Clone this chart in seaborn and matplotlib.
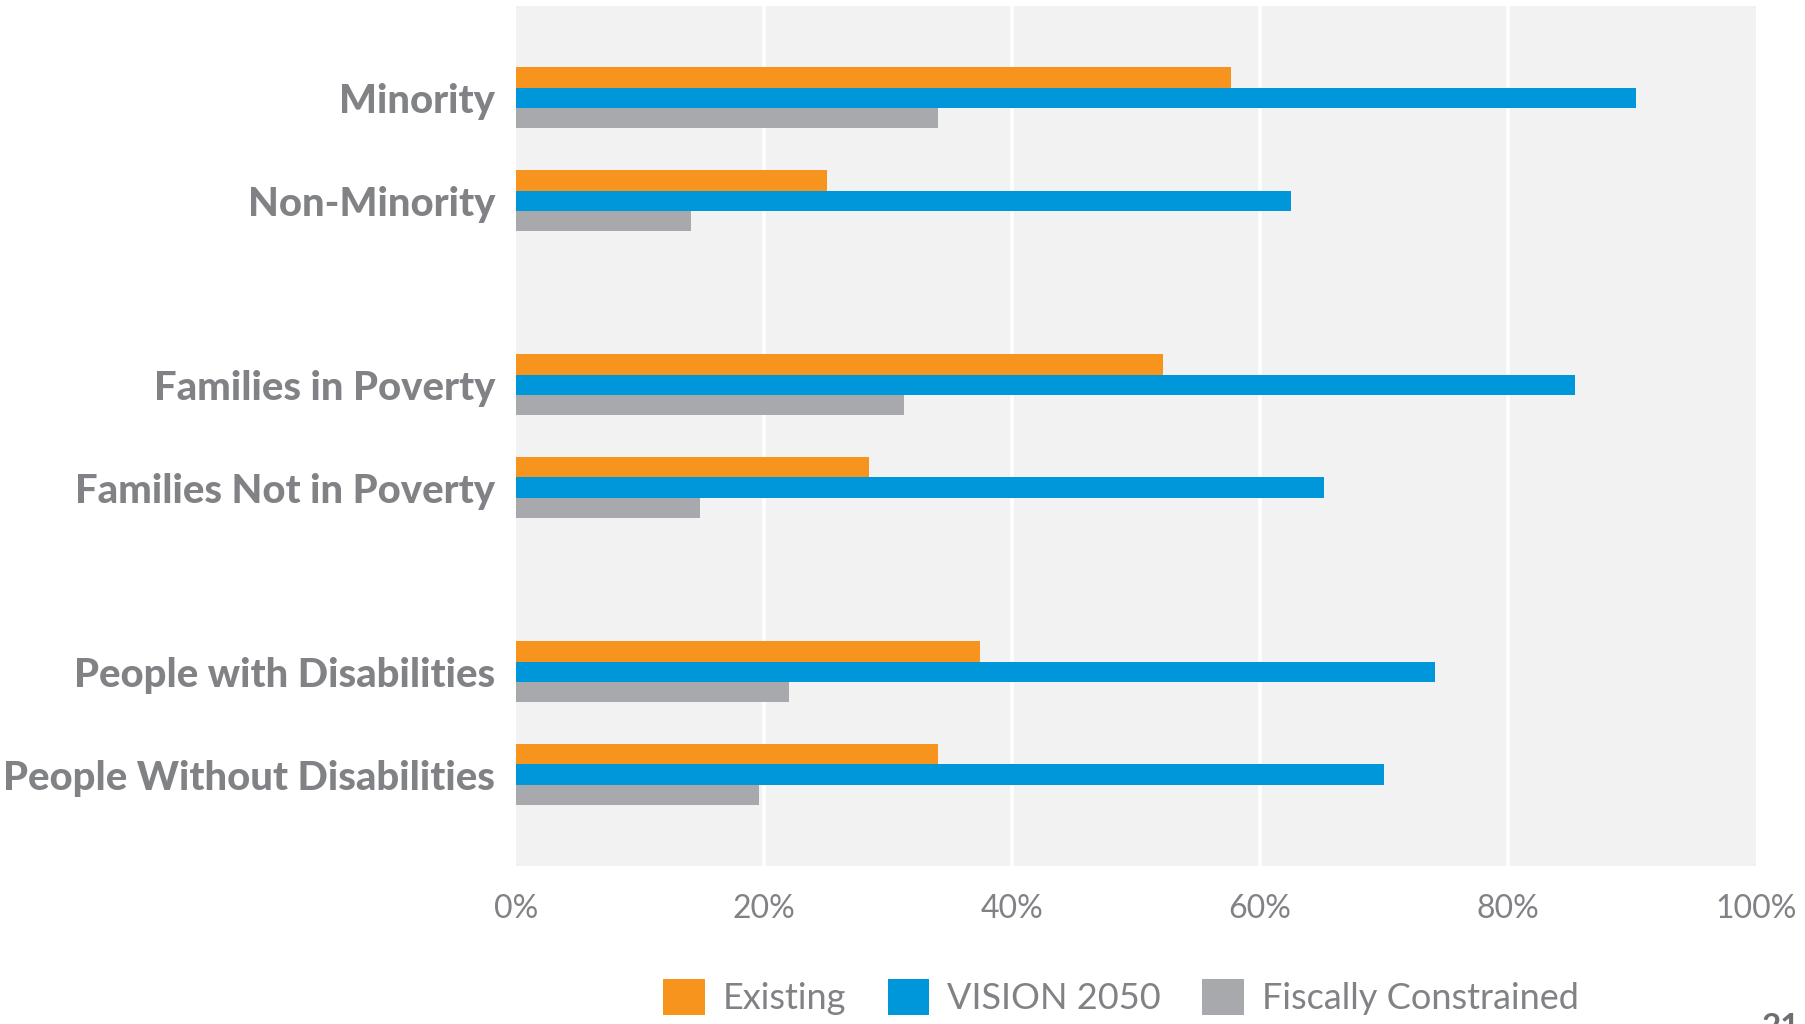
import matplotlib
matplotlib.use("Agg")
import matplotlib.pyplot as plt
import seaborn as sns
import pandas as pd
import numpy as np

categories = ["Minority", "Non-Minority", "Families in Poverty", "Families Not in Poverty",
              "People with Disabilities", "People Without Disabilities"]
series = ["Existing", "VISION 2050", "Fiscally Constrained"]
existing = [57.7, 25.1, 52.2, 28.5, 37.4, 34.0]
vision = [90.3, 62.5, 85.4, 65.2, 74.1, 70.0]
fiscal = [34.0, 14.1, 31.3, 14.8, 22.0, 19.6]
tick_labels = ["0%", "20%", "40%", "60%", "80%", "100%"]

colors = ["#F7941D", "#0096DA", "#A7A9AC"]
label_color = "#808285"

# layout: pairs of categories, with a wider gap between pairs
pair_step = 2.79
positions = [(i // 2) * pair_step + (i % 2) for i in range(len(categories))]

rows = []
for s, vals in zip(series, [existing, vision, fiscal]):
    for pos, v in zip(positions, vals):
        rows.append({"pos": pos, "value": v, "series": s})
df = pd.DataFrame(rows)

sns.set_theme(style="white")
plt.rcParams["font.family"] = ["Lato", "DejaVu Sans"]

fig = plt.figure(figsize=(18.06, 10.24), dpi=100)
ax = fig.add_axes([516 / 1806, 1 - 866 / 1024, (1756 - 516) / 1806, (866 - 6) / 1024])
ax.set_facecolor("#F2F2F2")

sns.barplot(data=df, x="value", y="pos", hue="series", hue_order=series,
            palette=colors, orient="y", native_scale=True, width=0.595,
            linewidth=0, saturation=1, ax=ax, legend=True, zorder=3)

ax.set_xlim(0, 100)
ax.set_ylim(positions[-1] + 0.888, -0.893)
ax.set_xticks([0, 20, 40, 60, 80, 100])
ax.set_xticklabels(tick_labels, fontsize=23, color=label_color,
                   family=["Liberation Sans Narrow", "Lato", "DejaVu Sans"])
ax.set_yticks(positions)
ax.set_yticklabels(categories, fontsize=28.8, fontweight="black", color=label_color)
ax.tick_params(axis="x", length=0, pad=20)
ax.tick_params(axis="y", length=0, pad=15)
for x in [20, 40, 60, 80]:
    ax.axvline(x, color="white", lw=2.6, zorder=1)
for sp in ax.spines.values():
    sp.set_visible(False)
ax.set_xlabel("")
ax.set_ylabel("")

handles, labels = ax.get_legend_handles_labels()
ax.get_legend().remove()
fig.legend(handles, labels, loc="center", bbox_to_anchor=(1121 / 1806, 1 - 997 / 1024),
           ncol=3, frameon=False, handlelength=1.15, handleheight=1.15,
           handletextpad=0.5, columnspacing=1.15,
           prop={"family": ["Liberation Sans Narrow", "Lato", "DejaVu Sans"], "size": 26},
           labelcolor=label_color)

fig.text(1762 / 1806, 1 - 1013 / 1024, "21", fontsize=24, fontweight="bold",
         color="#6D6E71", va="top", ha="left")

fig.savefig("out.png", dpi=100, facecolor="white")
